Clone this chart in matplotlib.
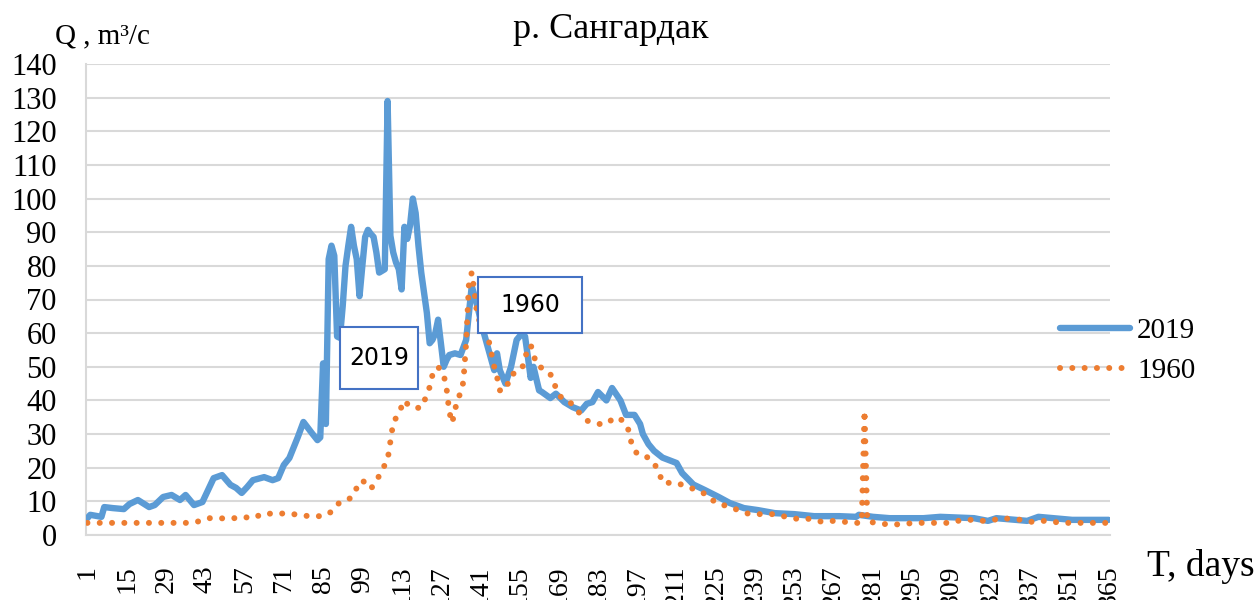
import matplotlib
matplotlib.use('Agg')
import matplotlib.pyplot as plt
from matplotlib.patches import Rectangle

# ---- данные (день года, расход м3/с) ----
days_2019 = [1, 2, 6, 7, 10, 14, 16, 19, 23, 25, 28, 31, 34, 36, 39, 42, 46, 49,
             52, 54, 56, 58, 60, 64, 67, 69, 71, 73, 76, 78, 81, 83, 84, 85, 86,
             87, 88, 89, 90, 91, 92, 93, 94, 95, 96, 97, 98, 99, 100, 101, 102,
             103, 104, 105, 106, 107, 108, 109, 110, 111, 112, 113, 114, 115, 116,
             117, 118, 119, 120, 121, 122, 123, 124, 125, 126, 127, 128, 129, 130,
             132, 134, 136, 137, 138, 139, 140, 142, 144, 146, 147, 148, 150, 152,
             154, 156, 157, 158, 159, 160, 162, 163, 166, 168, 171, 174, 177, 179,
             181, 183, 186, 188, 191, 193, 196, 198, 199, 201, 203, 206, 211, 213,
             217, 221, 226, 230, 235, 240, 246, 253, 260, 269, 275, 276, 281, 287,
             299, 305, 317, 322, 325, 336, 340, 352, 365]
q_2019 = [5, 6, 5.4, 8.3, 8, 7.7, 9.2, 10.4, 8.3, 8.9, 11.3, 11.9, 10.4, 11.9, 8.9,
          9.8, 16.9, 17.8, 14.9, 14, 12.5, 14.3, 16.3, 17.2, 16.3, 16.9, 20.8, 22.9,
          29.1, 33.6, 30.3, 28.2, 29, 51, 33, 82, 86, 83, 59, 58.6, 68, 80, 86, 91.6,
          86, 82, 71, 80, 88.6, 90.7, 89.5, 88.6, 84, 78, 78.5, 79, 129, 89, 84, 81,
          79, 73, 91.6, 88, 92, 100, 95.7, 86, 78, 72, 66, 57, 58, 60, 64, 57, 50, 52,
          53.5, 54, 53.5, 58, 66, 74, 71, 68, 61, 55, 49, 54, 49, 45, 50, 58, 60, 59,
          53, 46.7, 50, 43, 42.5, 40.7, 42, 39.5, 38, 37, 39, 39.5, 42.5, 40, 43.7,
          40, 35.7, 35.7, 33, 30, 27, 25, 23, 21.4, 18.4, 15, 13.4, 11.3, 9.5, 8,
          7.4, 6.5, 6.2, 5.6, 5.6, 5.4, 6, 5.4, 5, 5, 5.4, 5, 4.2, 5, 4.2, 5.4, 4.5,
          4.5]

days_1960 = [1, 5, 10, 14, 18, 23, 27, 32, 36, 40, 44, 48, 52, 56, 60, 64, 68, 72,
             76, 80, 85, 88, 91, 95, 97, 99, 102, 104, 106, 108, 110, 112, 114, 115,
             117, 120, 122, 123, 124, 126, 128, 129, 130, 131, 132, 133, 134, 135,
             136, 137, 138, 139, 140, 144, 145, 146, 147, 148, 150, 152, 153, 156,
             157, 159, 160, 161, 165, 167, 168, 170, 173, 176, 179, 183, 186, 189,
             192, 194, 195, 197, 201, 203, 205, 206, 211, 214, 218, 222, 225, 229,
             233, 237, 242, 246, 250, 254, 258, 263, 267, 271, 275, 277, 278, 279,
             283, 287, 292, 296, 300, 304, 308, 313, 317, 320, 324, 327, 330, 334,
             337, 342, 345, 350, 354, 358, 362, 365]
q_1960 = [3.6, 3.6, 3.6, 3.6, 3.6, 3.6, 3.6, 3.6, 3.6, 3.9, 5, 5, 4.8, 5.4, 5, 6.5,
          6.2, 6.5, 6, 5.6, 5.6, 6.9, 9.8, 11, 14, 16.3, 13.7, 16, 19.3, 22.3, 33.3,
          36.3, 40, 39, 37.8, 37.8, 41.6, 44, 47.6, 50, 47.6, 43.7, 36.6, 33.3, 37,
          40.7, 42, 45.5, 57, 75, 78, 72, 65, 58, 54, 50, 47, 43, 43, 47.6, 48, 49.6,
          53, 56.5, 54, 50.5, 48.8, 46.7, 43.4, 40.7, 39.5, 36.6, 34, 33, 33, 35, 34,
          31, 27, 24, 23, 21.4, 18, 15.5, 15.5, 14.6, 13.4, 11.9, 9.5, 8.6, 7.4, 6.2,
          6.2, 6.2, 5.4, 4.8, 4.8, 3.9, 4.2, 3.9, 3.6, 3.6, 37, 3.9, 3.6, 3.0, 3.3,
          3.6, 3.6, 3.6, 3.6, 4.5, 4.5, 4.2, 4.5, 5, 4.8, 4.5, 3.9, 4.2, 3.9, 3.6,
          3.6, 3.6, 3.6, 3.6]

x_ticks = list(range(1, 366, 14))
y_ticks = list(range(0, 141, 10))

C_2019 = '#5B9BD5'
C_1960 = '#ED7D31'
C_BOX = '#4472C4'
SERIF = ['Liberation Serif', 'DejaVu Serif']

W, H = 1259, 600
plt.rcParams['font.family'] = SERIF


def fx(px):
    return px / W


def fy(py):
    return 1 - py / H


fig = plt.figure(figsize=(W / 100, H / 100), dpi=100)
ax = fig.add_axes([fx(86), fy(535), fx(1110) - fx(86), fy(64) - fy(535)])

ax.plot(days_2019, q_2019, color=C_2019, lw=4.6, solid_joinstyle='round',
        solid_capstyle='round', label='2019', zorder=3)
ax.plot(days_1960, q_1960, color=C_1960, lw=4.3, linestyle=(0, (0.01, 2.05)),
        dash_capstyle='round', label='1960', zorder=4)

ax.set_xlim(0.5, 365.5)
ax.set_ylim(0, 140)
ax.set_xticks(x_ticks)
ax.set_xticklabels([str(t) for t in x_ticks], rotation=90, fontsize=20)
ax.set_yticks(y_ticks)
ax.set_yticklabels([str(t) for t in y_ticks], fontsize=22)
ax.tick_params(axis='x', length=0, pad=22)
ax.tick_params(axis='y', length=0, pad=21)
ax.grid(axis='y', color='#D9D9D9', lw=1.5)
ax.set_axisbelow(True)
for s in ['top', 'right']:
    ax.spines[s].set_visible(False)
for s in ['left', 'bottom']:
    ax.spines[s].set_color('#D9D9D9')
    ax.spines[s].set_linewidth(1.5)

fig.text(fx(611), fy(29), 'р. Сангардак', ha='center', va='center', fontsize=26)
fig.text(fx(55), fy(36), 'Q , m³/c', ha='left', va='center', fontsize=21)
fig.text(fx(1147), fy(566), 'T, days', ha='left', va='center', fontsize=27)

# подписи-рамки
for label, (x0, y0, x1, y1) in [('2019', (340, 327, 418, 389)),
                                 ('1960', (478, 277, 582, 333))]:
    fig.patches.append(Rectangle((fx(x0), fy(y1)), fx(x1) - fx(x0), fy(y0) - fy(y1),
                                 transform=fig.transFigure, facecolor='white',
                                 edgecolor=C_BOX, lw=1.5, zorder=5))
    fig.text(fx((x0 + x1) / 2), fy((y0 + y1) / 2), label, ha='center', va='center',
             fontsize=17, family=['DejaVu Sans'], zorder=6)

leg = fig.legend(loc='center left', bbox_to_anchor=(fx(1048), fy(351)), frameon=False,
                 fontsize=21, handlelength=2.4, handletextpad=0.25, labelspacing=0.45,
                 borderaxespad=0)

fig.savefig('out.png', dpi=100, facecolor='white')
